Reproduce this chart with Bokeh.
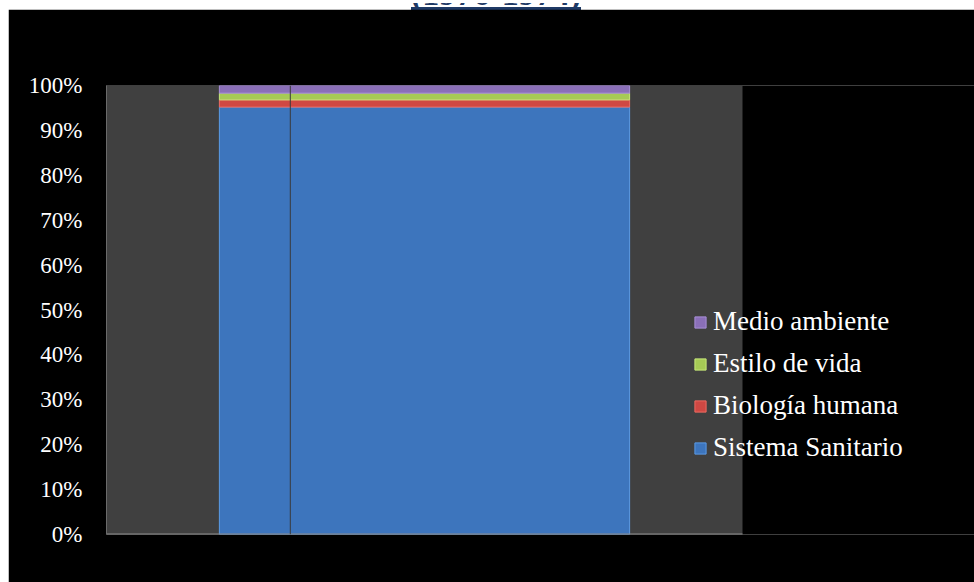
from bokeh.plotting import figure
from bokeh.models import (ColumnDataSource, Range1d, Legend, LegendItem, BoxAnnotation,
                          Span, PrintfTickFormatter, FixedTicker, Div)
from bokeh.layouts import column
from bokeh.embed import file_html
from bokeh.resources import INLINE

# ---- data ----
title_text = "(1976-1974)"
periods = ["1976-1974"]
series = ["Sistema Sanitario", "Biología humana", "Estilo de vida", "Medio ambiente"]
sistema_sanitario = [95.2]
biologia_humana = [1.6]
estilo_de_vida = [1.5]
medio_ambiente = [1.7]
y_ticks = [0, 10, 20, 30, 40, 50, 60, 70, 80, 90, 100]

colors = ["#3d75bd", "#cf4843", "#a6ca55", "#8a6fb8"]
edge_colors = ["#5b9be6", "#ee6a62", "#c8e87a", "#a88fd8"]

# category slots: each period occupies one unit on the x scale
x_pos = [i + 0.5 for i in range(len(periods))]
plot_area_units = len(periods)          # grey plot area spans the category slots
legend_room = 868 / 636                 # extra room on the right for the legend

src = ColumnDataSource(dict(x=x_pos, period=periods, s0=sistema_sanitario, s1=biologia_humana,
                            s2=estilo_de_vida, s3=medio_ambiente))

p = figure(width=966, height=573, margin=(0, 0, 0, 8),
           x_range=Range1d(0, plot_area_units * legend_room),
           y_range=Range1d(0, 100),
           output_backend="svg", toolbar_location=None,
           min_border_left=98, min_border_right=0, min_border_top=76, min_border_bottom=48,
           border_fill_color="black", background_fill_color="black",
           outline_line_color=None)

# grey plot area
p.add_layout(BoxAnnotation(left=0, right=plot_area_units, fill_color="#404040", fill_alpha=1,
                           line_color=None, level="underlay"))

rends = p.vbar_stack(["s0", "s1", "s2", "s3"], x="x", width=0.645, source=src,
                     fill_color=colors, line_color=edge_colors, line_width=1)

p.add_layout(Span(location=0.289, dimension="height", line_color="#3a3a3a", line_width=1))

# horizontal category axis line (only under the grey plot area)
p.segment(x0=[0], y0=[0], x1=[plot_area_units], y1=[0], line_color="#8c8c8c", line_width=2)

p.xgrid.visible = False
p.ygrid.visible = False
for ax in p.below:
    ax.visible = False
    ax.axis_line_color = None
    ax.major_tick_line_color = None
    ax.minor_tick_line_color = None

p.yaxis.ticker = FixedTicker(ticks=y_ticks)
p.yaxis.formatter = PrintfTickFormatter(format="%d%%")
p.yaxis.major_label_text_font = "Liberation Serif"
p.yaxis.major_label_text_font_size = "23px"
p.yaxis.major_label_text_color = "white"
p.yaxis.major_tick_out = 0
p.yaxis.major_tick_in = 0
p.yaxis.minor_tick_out = 0
p.yaxis.minor_tick_in = 0
p.yaxis.major_label_standoff = 24
p.yaxis.axis_line_color = "#6a6a6a"

items = [LegendItem(label=series[i], renderers=[rends[i]]) for i in range(len(series))][::-1]
legend = Legend(items=items, location=(587, 71), padding=0, margin=0,
                background_fill_alpha=0, border_line_alpha=0,
                label_text_font="Liberation Serif", label_text_font_size="27px",
                label_text_color="white", glyph_width=14, glyph_height=14,
                label_standoff=6, label_height=30, spacing=11)
p.add_layout(legend)

title_div = Div(
    text=('<div style="position:relative;width:974px;height:9px;overflow:hidden;">'
          '<div style="position:absolute;left:0;width:992px;bottom:2px;text-align:center;">'
          '<span style="display:inline-block;font-family:\'Liberation Serif\';font-weight:bold;'
          'font-size:34px;line-height:26px;color:#1f3a66;border-bottom:3px solid #1f3a66;">'
          + title_text + '</span></div></div>'),
    width=974, height=9, margin=(0, 0, 0, 0))

layout = column(title_div, p, spacing=0)

open("out.html", "w").write(file_html(layout, INLINE))
